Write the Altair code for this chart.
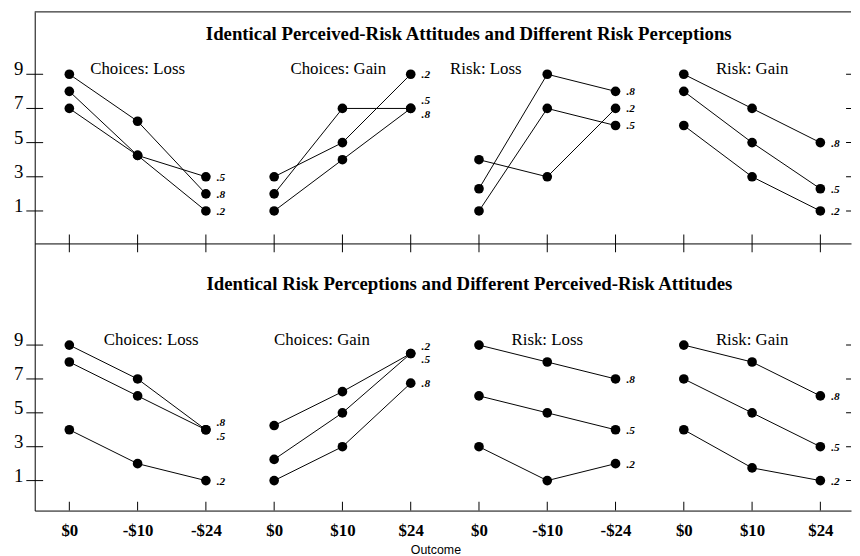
import altair as alt
import pandas as pd

# ---------------- data ----------------
PANELS = ["Choices: Loss", "Choices: Gain", "Risk: Loss", "Risk: Gain"]
OUTCOME_LABELS = ["$0", "-$10", "-$24", "$0", "$10", "$24",
                  "$0", "-$10", "-$24", "$0", "$10", "$24"]
PROB_LABELS = [".2", ".5", ".8"]
Y_TICKS = [1, 3, 5, 7, 9]

TOP_TITLE = "Identical Perceived-Risk Attitudes and Different Risk Perceptions"
BOTTOM_TITLE = "Identical Risk Perceptions and Different Perceived-Risk Attitudes"

# values by probability label; 3 outcomes for each of the 4 panels
TOP_P2 = [8, 4.25, 1, 3, 5, 9, 4, 3, 7, 6, 3, 1]
TOP_P5 = [7, 4.25, 3, 2, 7, 7, 1, 7, 6, 8, 5, 2.3]
TOP_P8 = [9, 6.25, 2, 1, 4, 7, 2.3, 9, 8, 9, 7, 5]

BOT_P2 = [4, 2, 1, 4.25, 6.25, 8.5, 3, 1, 2, 4, 1.75, 1]
BOT_P5 = [8, 6, 4, 2.25, 5, 8.5, 6, 5, 4, 7, 5, 3]
BOT_P8 = [9, 7, 4, 1, 3, 6.75, 9, 8, 7, 9, 8, 6]

# ---------------- layout / annotation placement ----------------
X_MIN, X_MAX = -0.507, 11.449
TOP_YDOM = [-0.9, 12.65]
BOT_YDOM = [-0.77, 15.0]
TOP_PANEL_TITLE_X = [1.0, 3.94, 6.1, 10.0]
BOT_PANEL_TITLE_X = [1.2, 3.7, 7.0, 10.0]
PANEL_TITLE_Y = 9.0
TOP_TITLE_POS = (5.85, 10.99)
BOT_TITLE_POS = (5.86, 12.26)

SERIF = "Liberation Serif"
SANS = "Liberation Sans"


def make_df(series):
    rows = []
    for p_lab, vals in zip(PROB_LABELS, series):
        for i, v in enumerate(vals):
            rows.append({
                "xi": i, "value": v, "panel": PANELS[i // 3], "prob": p_lab,
                "series": PANELS[i // 3] + "|" + p_lab,
                "last": i % 3 == 2,
                "prev": vals[i - 1] if i % 3 else -1,
            })
    df = pd.DataFrame(rows)
    lab = df[df["last"]].copy()
    lab["loff"] = 0
    for _, g in lab.groupby("panel"):
        dup = g[g.duplicated("value", keep=False)]
        for _, gg in dup.groupby("value"):
            idx = gg.sort_values("prev", ascending=False).index
            lab.loc[idx[0], "loff"] = -1
            lab.loc[idx[1], "loff"] = 1
    return df, lab


def panel(series, ydom, height, title, title_pos, ptitle_x, bottom):
    df, lab = make_df(series)
    xscale = alt.Scale(domain=[X_MIN, X_MAX], nice=False, zero=False)
    yscale = alt.Scale(domain=ydom, nice=False, zero=False)
    if bottom:
        expr = "[" + ",".join("'" + s + "'" for s in OUTCOME_LABELS) + "][datum.value]"
        xaxis = alt.Axis(values=list(range(12)), labelExpr=expr, ticks=False, tickSize=0,
                         labelPadding=12, labelFont=SERIF, labelFontSize=17,
                         labelFontWeight="bold", labelColor="black",
                         domainColor="black", domainWidth=1, grid=False,
                         title="Outcome", titleFont=SANS, titleFontSize=12.5,
                         titleFontWeight="normal", titleColor="black",
                         titleX=405, titlePadding=5)
    else:
        xaxis = alt.Axis(labels=False, ticks=False, tickSize=0, domainColor="black",
                         domainWidth=1, grid=False, title=None)
    yaxis = alt.Axis(values=Y_TICKS, ticks=False, tickSize=0, labelPadding=12,
                     labelFont=SERIF, labelFontSize=19, labelColor="black",
                     labelBaseline="alphabetic", labelOffset=0.5,
                     domainColor="black", domainWidth=1, grid=False, title=None)
    X = alt.X("xi:Q", scale=xscale, axis=xaxis)
    Y = alt.Y("value:Q", scale=yscale, axis=yaxis)

    base = alt.Chart(df)
    lines = base.mark_line(color="black", strokeWidth=1).encode(x=X, y=Y, detail="series:N")
    pts = base.mark_circle(size=95, color="black", opacity=1).encode(x=X, y=Y)

    lab_layers = []
    for off, dy in [(-1, -7), (0, 1), (1, 7)]:
        sub = lab[lab["loff"] == off]
        if len(sub):
            lab_layers.append(
                alt.Chart(sub).mark_text(align="left", baseline="middle", dx=11, dy=dy,
                                         font=SERIF, fontSize=11.5, fontStyle="italic",
                                         fontWeight="bold", color="black")
                .encode(x=X, y=Y, text="prob:N"))

    # crossing tick marks on the frame
    ytick_df = pd.DataFrame({"xi": [X_MIN] * len(Y_TICKS), "value": Y_TICKS})
    ltick = alt.Chart(ytick_df).mark_tick(orient="horizontal", size=17, thickness=1,
                                          color="black", opacity=1).encode(x=X, y=Y)
    rtick_df = pd.DataFrame({"xi": [X_MAX] * len(Y_TICKS), "value": Y_TICKS})
    rtick = alt.Chart(rtick_df).mark_tick(orient="horizontal", size=10, thickness=1,
                                          color="black", opacity=1, clip=True).encode(x=X, y=Y)
    xtick_df = pd.DataFrame({"xi": list(range(12)), "value": [ydom[0]] * 12})
    if bottom:
        xtick = alt.Chart(xtick_df).mark_tick(orient="vertical", size=9, thickness=1, yOffset=-4.5,
                                              color="black", opacity=1).encode(x=X, y=Y)
    else:
        xtick = alt.Chart(xtick_df).mark_tick(orient="vertical", size=18, thickness=1,
                                              color="black", opacity=1).encode(x=X, y=Y)

    ptitle_df = pd.DataFrame({"xi": ptitle_x, "value": [PANEL_TITLE_Y] * 4, "t": PANELS})
    ptitles = alt.Chart(ptitle_df).mark_text(font=SERIF, fontSize=17, color="black",
                                             align="center", baseline="alphabetic").encode(x=X, y=Y, text="t:N")
    title_df = pd.DataFrame({"xi": [title_pos[0]], "value": [title_pos[1]], "t": [title]})
    stitle = alt.Chart(title_df).mark_text(font=SERIF, fontSize=19, fontWeight="bold", color="black",
                                           align="center", baseline="alphabetic").encode(x=X, y=Y, text="t:N")
    layers = [lines, pts] + lab_layers + [ltick, rtick, xtick, ptitles, stitle]
    if not bottom:
        border_df = pd.DataFrame({"value": [ydom[1]]})
        layers.append(alt.Chart(border_df).mark_rule(color="black", strokeWidth=1).encode(y=Y))
    return alt.layer(*layers).properties(width=825, height=height)


top = panel([TOP_P2, TOP_P5, TOP_P8], TOP_YDOM, 234, TOP_TITLE, TOP_TITLE_POS,
            TOP_PANEL_TITLE_X, bottom=False)
bot = panel([BOT_P2, BOT_P5, BOT_P8], BOT_YDOM, 270, BOTTOM_TITLE, BOT_TITLE_POS,
            BOT_PANEL_TITLE_X, bottom=True)

chart = (alt.vconcat(top, bot, spacing=0, bounds="flush")
         .properties(padding={"left": 5, "top": 0, "right": 0, "bottom": 0},
                     background="white")
         .configure_view(strokeWidth=0))

chart.save("out.html", embed_options={"renderer": "svg", "actions": False})
